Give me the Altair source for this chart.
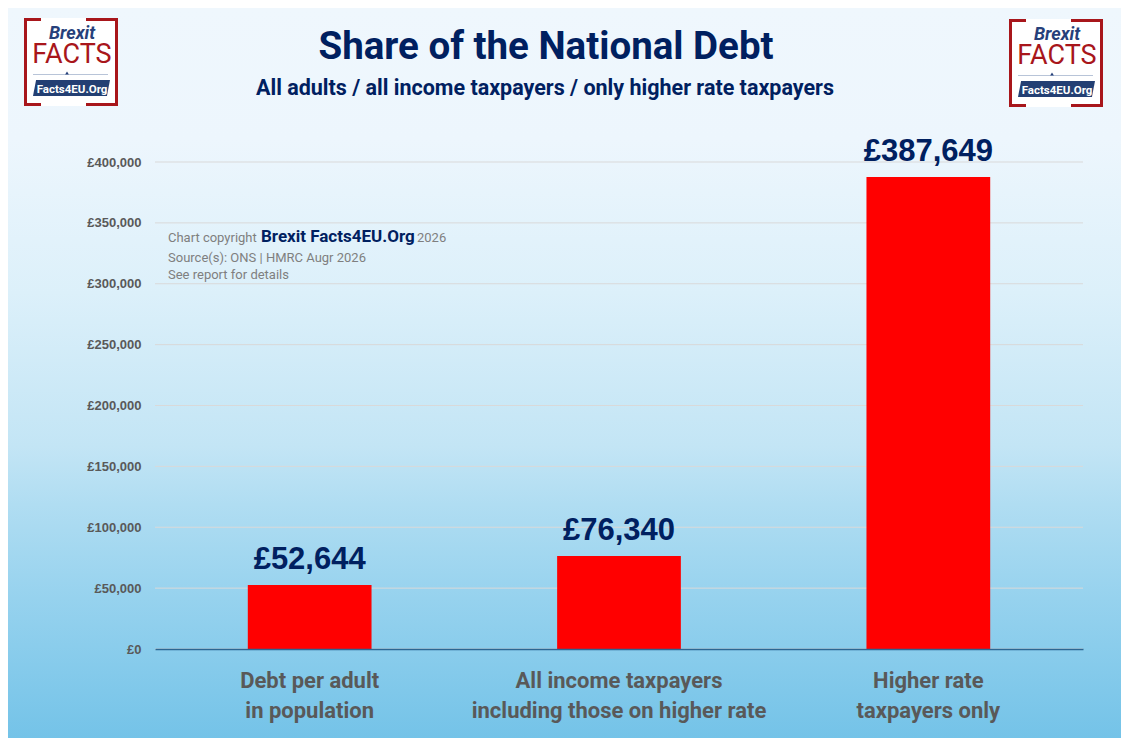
import altair as alt
import pandas as pd

# ---------------- data ----------------
categories = [
    "Debt per adult|in population",
    "All income taxpayers|including those on higher rate",
    "Higher rate|taxpayers only",
]
values = [52644, 76340, 387649]
y_ticks = [0, 50000, 100000, 150000, 200000, 250000, 300000, 350000, 400000]

title_text = "Share of the National Debt"
subtitle_text = "All adults / all income taxpayers / only higher rate taxpayers"
credit_1a = "Chart copyright"
credit_1b = "Brexit Facts4EU.Org"
credit_1c = "2026"
credit_2 = "Source(s): ONS | HMRC Augr 2026"
credit_3 = "See report for details"
logo_top = "Brexit"
logo_mid = "FACTS"
logo_bottom = "Facts4EU.Org"

# ---------------- layout ----------------
W, H = 928, 487
PL, PT, PR, PB = 147, 154, 38, 89
OX, OY = 155, 162  # page position of plot origin

NAVY = "#002060"
GREY = "#595959"
FONT = "Roboto"


def px(x):
    return x - OX


def py(y):
    return y - OY


one = pd.DataFrame({"k": [0]})
bars_df = pd.DataFrame({"category": categories, "value": values})
ticks_df = pd.DataFrame({"tick": y_ticks})

yscale = alt.Scale(domain=[0, 400000], nice=False, zero=True)
xscale = alt.Scale(paddingInner=0.6, paddingOuter=0.3)

y_axis = alt.Axis(
    title=None, values=y_ticks,
    labelExpr="'£' + format(datum.value, ',')",
    domain=False, ticks=False, grid=False,
    labelFont="Liberation Sans", labelFontWeight="bold",
    labelFontSize=13, labelColor=GREY, labelPadding=14, zindex=1,
)

x_axis = alt.Axis(
    title=None, labelExpr="split(datum.label, '|')", labelAngle=0,
    ticks=False, domain=True, domainColor="#2b6693", domainWidth=1.3,
    labelFont=FONT, labelFontWeight="bold", labelFontSize=22,
    labelColor=GREY, labelLineHeight=30, labelBaseline="alphabetic",
    labelPadding=38, labelLimit=500, labelOverlap=False, zindex=1,
)

bg = alt.Chart(one).mark_rect(
    color=alt.Gradient(
        gradient="linear", x1=0, x2=0, y1=0, y2=1,
        stops=[
            alt.GradientStop(offset=0.0, color="#eff7fd"),
            alt.GradientStop(offset=0.18, color="#edf6fd"),
            alt.GradientStop(offset=0.39, color="#dcf0fa"),
            alt.GradientStop(offset=0.60, color="#c3e5f5"),
            alt.GradientStop(offset=0.68, color="#b0ddf2"),
            alt.GradientStop(offset=0.81, color="#96d2ee"),
            alt.GradientStop(offset=1.0, color="#74c3e8"),
        ],
    )
).encode(x=alt.value(-PL), x2=alt.value(W + PR), y=alt.value(-PT), y2=alt.value(H + PB))

grid = alt.Chart(ticks_df).mark_rule(color="#d9d9d9", strokeWidth=1).encode(
    y=alt.Y("tick:Q", scale=yscale, axis=y_axis),
    x=alt.value(0),
    x2=alt.value(W),
)

bars = alt.Chart(bars_df).mark_bar(color="#ff0000").encode(
    x=alt.X("category:N", sort=categories, scale=xscale, axis=x_axis),
    y=alt.Y("value:Q", scale=yscale, axis=y_axis),
)

labels = alt.Chart(bars_df).transform_calculate(
    lbl="'£' + format(datum.value, ',')"
).mark_text(
    font="Liberation Sans", fontWeight="bold", fontSize=31, color=NAVY,
    baseline="alphabetic", align="center", dy=-16,
).encode(
    x=alt.X("category:N", sort=categories, scale=xscale, axis=x_axis),
    y=alt.Y("value:Q", scale=yscale, axis=y_axis),
    text="lbl:N",
)


def txt(s, x, y, size, color, weight="normal", font=FONT, align="left", style="normal"):
    return alt.Chart(one).mark_text(
        text=s, fontSize=size, color=color, fontWeight=weight, font=font,
        align=align, baseline="alphabetic", fontStyle=style,
    ).encode(x=alt.value(px(x)), y=alt.value(py(y)))


def box(x1, y1, x2, y2, color):
    return alt.Chart(one).mark_rect(color=color).encode(
        x=alt.value(px(x1)), x2=alt.value(px(x2)), y=alt.value(py(y1)), y2=alt.value(py(y2))
    )


def logo(lx, ly):
    red = "#a8161b"
    parts = [
        box(lx, ly, lx + 94, ly + 88, "#ffffff"),
        box(lx, ly, lx + 3, ly + 88, red),
        box(lx + 91, ly, lx + 94, ly + 88, red),
        box(lx, ly, lx + 17, ly + 3, red),
        box(lx + 62, ly, lx + 94, ly + 3, red),
        box(lx, ly + 85, lx + 17, ly + 88, red),
        box(lx + 62, ly + 85, lx + 94, ly + 88, red),
        txt(logo_top, lx + 48, ly + 21, 18, "#26407a", weight="bold", align="center", style="italic"),
        txt(logo_mid, lx + 48, ly + 44.5, 27, red, align="center"),
        alt.Chart(one).mark_rule(color="#b8c4d8", strokeWidth=1).encode(
            x=alt.value(px(lx + 9)), x2=alt.value(px(lx + 84)), y=alt.value(py(ly + 56.5))
        ),
        alt.Chart(one).mark_point(shape="triangle-up", filled=True, size=14, color="#26407a", opacity=1).encode(
            x=alt.value(px(lx + 43)), y=alt.value(py(ly + 55))
        ),
        alt.Chart(one).mark_point(
            shape="M -0.92 -0.205 L 1 -0.205 L 0.92 0.205 L -1 0.205 Z",
            filled=True, size=77 * 77, color="#233f73", opacity=1,
        ).encode(x=alt.value(px(lx + 47.5)), y=alt.value(py(ly + 70))),
        txt(logo_bottom, lx + 48, ly + 75, 11.5, "#ffffff", weight="bold", align="center"),
    ]
    return parts


texts = [
    txt(title_text, 546, 59, 38.5, NAVY, weight="bold", align="center"),
    txt(subtitle_text, 545, 95, 21.5, NAVY, weight="bold", align="center"),
    txt(credit_1a, 168, 242, 13, "#7f7f7f"),
    txt(credit_1b, 261, 242, 17, NAVY, weight="bold"),
    txt(credit_1c, 417, 242, 13, "#7f7f7f"),
    txt(credit_2, 168, 262, 13, "#7f7f7f"),
    txt(credit_3, 168, 279, 13, "#7f7f7f"),
]

layers = [bg, grid, bars, labels] + texts + logo(24, 18) + logo(1009, 19)

chart = alt.layer(*layers).properties(
    width=W, height=H,
    padding={"left": PL, "top": PT, "right": PR, "bottom": PB},
    autosize=alt.AutoSizeParams(type="none"),
).configure_view(stroke=None).configure(background="white")

chart.save("out.html", embed_options={"renderer": "svg", "actions": False})
